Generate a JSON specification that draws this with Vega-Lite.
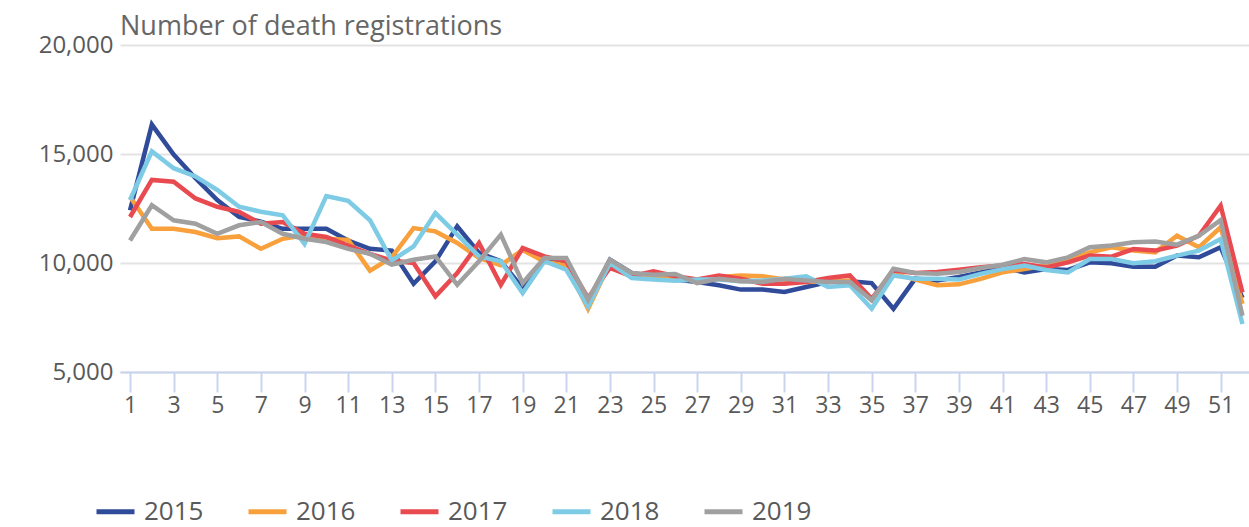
{
  "$schema": "https://vega.github.io/schema/vega-lite/v6.json",
  "width": 1129,
  "height": 327,
  "autosize": "none",
  "padding": {"left": 120, "top": 45, "right": 0, "bottom": 155},
  "background": "white",
  "config": {
    "font": "Open Sans",
    "view": {"stroke": null}
  },
  "title": {
    "text": "Number of death registrations",
    "anchor": "start",
    "frame": "group",
    "fontSize": 27,
    "fontWeight": "normal",
    "color": "#666666",
    "font": "Open Sans",
    "offset": -8
  },
  "data": {
    "values": [
      {"week": 1, "year": "2015", "deaths": 12420},
      {"week": 2, "year": "2015", "deaths": 16350},
      {"week": 3, "year": "2015", "deaths": 14970},
      {"week": 4, "year": "2015", "deaths": 13890},
      {"week": 5, "year": "2015", "deaths": 12890},
      {"week": 6, "year": "2015", "deaths": 12110},
      {"week": 7, "year": "2015", "deaths": 11900},
      {"week": 8, "year": "2015", "deaths": 11570},
      {"week": 9, "year": "2015", "deaths": 11570},
      {"week": 10, "year": "2015", "deaths": 11570},
      {"week": 11, "year": "2015", "deaths": 11030},
      {"week": 12, "year": "2015", "deaths": 10650},
      {"week": 13, "year": "2015", "deaths": 10570},
      {"week": 14, "year": "2015", "deaths": 9050},
      {"week": 15, "year": "2015", "deaths": 10080},
      {"week": 16, "year": "2015", "deaths": 11680},
      {"week": 17, "year": "2015", "deaths": 10460},
      {"week": 18, "year": "2015", "deaths": 10080},
      {"week": 19, "year": "2015", "deaths": 8850},
      {"week": 20, "year": "2015", "deaths": 10230},
      {"week": 21, "year": "2015", "deaths": 10080},
      {"week": 22, "year": "2015", "deaths": 8240},
      {"week": 23, "year": "2015", "deaths": 10150},
      {"week": 24, "year": "2015", "deaths": 9540},
      {"week": 25, "year": "2015", "deaths": 9390},
      {"week": 26, "year": "2015", "deaths": 9240},
      {"week": 27, "year": "2015", "deaths": 9130},
      {"week": 28, "year": "2015", "deaths": 8980},
      {"week": 29, "year": "2015", "deaths": 8780},
      {"week": 30, "year": "2015", "deaths": 8780},
      {"week": 31, "year": "2015", "deaths": 8670},
      {"week": 32, "year": "2015", "deaths": 8900},
      {"week": 33, "year": "2015", "deaths": 9130},
      {"week": 34, "year": "2015", "deaths": 9160},
      {"week": 35, "year": "2015", "deaths": 9080},
      {"week": 36, "year": "2015", "deaths": 7900},
      {"week": 37, "year": "2015", "deaths": 9280},
      {"week": 38, "year": "2015", "deaths": 9200},
      {"week": 39, "year": "2015", "deaths": 9360},
      {"week": 40, "year": "2015", "deaths": 9570},
      {"week": 41, "year": "2015", "deaths": 9800},
      {"week": 42, "year": "2015", "deaths": 9570},
      {"week": 43, "year": "2015", "deaths": 9720},
      {"week": 44, "year": "2015", "deaths": 9680},
      {"week": 45, "year": "2015", "deaths": 10030},
      {"week": 46, "year": "2015", "deaths": 9985},
      {"week": 47, "year": "2015", "deaths": 9830},
      {"week": 48, "year": "2015", "deaths": 9830},
      {"week": 49, "year": "2015", "deaths": 10340},
      {"week": 50, "year": "2015", "deaths": 10260},
      {"week": 51, "year": "2015", "deaths": 10720},
      {"week": 52, "year": "2015", "deaths": 8400},
      {"week": 1, "year": "2016", "deaths": 13040},
      {"week": 2, "year": "2016", "deaths": 11570},
      {"week": 3, "year": "2016", "deaths": 11570},
      {"week": 4, "year": "2016", "deaths": 11420},
      {"week": 5, "year": "2016", "deaths": 11140},
      {"week": 6, "year": "2016", "deaths": 11220},
      {"week": 7, "year": "2016", "deaths": 10650},
      {"week": 8, "year": "2016", "deaths": 11110},
      {"week": 9, "year": "2016", "deaths": 11270},
      {"week": 10, "year": "2016", "deaths": 11110},
      {"week": 11, "year": "2016", "deaths": 11060},
      {"week": 12, "year": "2016", "deaths": 9650},
      {"week": 13, "year": "2016", "deaths": 10260},
      {"week": 14, "year": "2016", "deaths": 11600},
      {"week": 15, "year": "2016", "deaths": 11450},
      {"week": 16, "year": "2016", "deaths": 10920},
      {"week": 17, "year": "2016", "deaths": 10230},
      {"week": 18, "year": "2016", "deaths": 9900},
      {"week": 19, "year": "2016", "deaths": 10600},
      {"week": 20, "year": "2016", "deaths": 10050},
      {"week": 21, "year": "2016", "deaths": 9900},
      {"week": 22, "year": "2016", "deaths": 7900},
      {"week": 23, "year": "2016", "deaths": 10000},
      {"week": 24, "year": "2016", "deaths": 9500},
      {"week": 25, "year": "2016", "deaths": 9400},
      {"week": 26, "year": "2016", "deaths": 9350},
      {"week": 27, "year": "2016", "deaths": 9240},
      {"week": 28, "year": "2016", "deaths": 9360},
      {"week": 29, "year": "2016", "deaths": 9430},
      {"week": 30, "year": "2016", "deaths": 9390},
      {"week": 31, "year": "2016", "deaths": 9240},
      {"week": 32, "year": "2016", "deaths": 9130},
      {"week": 33, "year": "2016", "deaths": 9160},
      {"week": 34, "year": "2016", "deaths": 9200},
      {"week": 35, "year": "2016", "deaths": 8290},
      {"week": 36, "year": "2016", "deaths": 9510},
      {"week": 37, "year": "2016", "deaths": 9240},
      {"week": 38, "year": "2016", "deaths": 8980},
      {"week": 39, "year": "2016", "deaths": 9020},
      {"week": 40, "year": "2016", "deaths": 9270},
      {"week": 41, "year": "2016", "deaths": 9570},
      {"week": 42, "year": "2016", "deaths": 9720},
      {"week": 43, "year": "2016", "deaths": 9880},
      {"week": 44, "year": "2016", "deaths": 10110},
      {"week": 45, "year": "2016", "deaths": 10490},
      {"week": 46, "year": "2016", "deaths": 10720},
      {"week": 47, "year": "2016", "deaths": 10570},
      {"week": 48, "year": "2016", "deaths": 10490},
      {"week": 49, "year": "2016", "deaths": 11250},
      {"week": 50, "year": "2016", "deaths": 10720},
      {"week": 51, "year": "2016", "deaths": 11640},
      {"week": 52, "year": "2016", "deaths": 8120},
      {"week": 1, "year": "2017", "deaths": 12110},
      {"week": 2, "year": "2017", "deaths": 13810},
      {"week": 3, "year": "2017", "deaths": 13730},
      {"week": 4, "year": "2017", "deaths": 12960},
      {"week": 5, "year": "2017", "deaths": 12580},
      {"week": 6, "year": "2017", "deaths": 12350},
      {"week": 7, "year": "2017", "deaths": 11800},
      {"week": 8, "year": "2017", "deaths": 11880},
      {"week": 9, "year": "2017", "deaths": 11340},
      {"week": 10, "year": "2017", "deaths": 11190},
      {"week": 11, "year": "2017", "deaths": 10800},
      {"week": 12, "year": "2017", "deaths": 10420},
      {"week": 13, "year": "2017", "deaths": 10110},
      {"week": 14, "year": "2017", "deaths": 10000},
      {"week": 15, "year": "2017", "deaths": 8470},
      {"week": 16, "year": "2017", "deaths": 9540},
      {"week": 17, "year": "2017", "deaths": 10920},
      {"week": 18, "year": "2017", "deaths": 9000},
      {"week": 19, "year": "2017", "deaths": 10690},
      {"week": 20, "year": "2017", "deaths": 10300},
      {"week": 21, "year": "2017", "deaths": 10080},
      {"week": 22, "year": "2017", "deaths": 8400},
      {"week": 23, "year": "2017", "deaths": 9770},
      {"week": 24, "year": "2017", "deaths": 9390},
      {"week": 25, "year": "2017", "deaths": 9620},
      {"week": 26, "year": "2017", "deaths": 9390},
      {"week": 27, "year": "2017", "deaths": 9240},
      {"week": 28, "year": "2017", "deaths": 9430},
      {"week": 29, "year": "2017", "deaths": 9280},
      {"week": 30, "year": "2017", "deaths": 9050},
      {"week": 31, "year": "2017", "deaths": 9050},
      {"week": 32, "year": "2017", "deaths": 9130},
      {"week": 33, "year": "2017", "deaths": 9310},
      {"week": 34, "year": "2017", "deaths": 9430},
      {"week": 35, "year": "2017", "deaths": 8360},
      {"week": 36, "year": "2017", "deaths": 9660},
      {"week": 37, "year": "2017", "deaths": 9540},
      {"week": 38, "year": "2017", "deaths": 9590},
      {"week": 39, "year": "2017", "deaths": 9690},
      {"week": 40, "year": "2017", "deaths": 9800},
      {"week": 41, "year": "2017", "deaths": 9880},
      {"week": 42, "year": "2017", "deaths": 9950},
      {"week": 43, "year": "2017", "deaths": 9800},
      {"week": 44, "year": "2017", "deaths": 10030},
      {"week": 45, "year": "2017", "deaths": 10340},
      {"week": 46, "year": "2017", "deaths": 10290},
      {"week": 47, "year": "2017", "deaths": 10640},
      {"week": 48, "year": "2017", "deaths": 10570},
      {"week": 49, "year": "2017", "deaths": 10800},
      {"week": 50, "year": "2017", "deaths": 11250},
      {"week": 51, "year": "2017", "deaths": 12630},
      {"week": 52, "year": "2017", "deaths": 8650},
      {"week": 1, "year": "2018", "deaths": 12890},
      {"week": 2, "year": "2018", "deaths": 15120},
      {"week": 3, "year": "2018", "deaths": 14350},
      {"week": 4, "year": "2018", "deaths": 13970},
      {"week": 5, "year": "2018", "deaths": 13350},
      {"week": 6, "year": "2018", "deaths": 12580},
      {"week": 7, "year": "2018", "deaths": 12350},
      {"week": 8, "year": "2018", "deaths": 12190},
      {"week": 9, "year": "2018", "deaths": 10880},
      {"week": 10, "year": "2018", "deaths": 13070},
      {"week": 11, "year": "2018", "deaths": 12850},
      {"week": 12, "year": "2018", "deaths": 11960},
      {"week": 13, "year": "2018", "deaths": 10110},
      {"week": 14, "year": "2018", "deaths": 10760},
      {"week": 15, "year": "2018", "deaths": 12290},
      {"week": 16, "year": "2018", "deaths": 11300},
      {"week": 17, "year": "2018", "deaths": 10300},
      {"week": 18, "year": "2018", "deaths": 10080},
      {"week": 19, "year": "2018", "deaths": 8620},
      {"week": 20, "year": "2018", "deaths": 10080},
      {"week": 21, "year": "2018", "deaths": 9690},
      {"week": 22, "year": "2018", "deaths": 8010},
      {"week": 23, "year": "2018", "deaths": 10000},
      {"week": 24, "year": "2018", "deaths": 9310},
      {"week": 25, "year": "2018", "deaths": 9240},
      {"week": 26, "year": "2018", "deaths": 9190},
      {"week": 27, "year": "2018", "deaths": 9240},
      {"week": 28, "year": "2018", "deaths": 9240},
      {"week": 29, "year": "2018", "deaths": 9160},
      {"week": 30, "year": "2018", "deaths": 9200},
      {"week": 31, "year": "2018", "deaths": 9280},
      {"week": 32, "year": "2018", "deaths": 9390},
      {"week": 33, "year": "2018", "deaths": 8900},
      {"week": 34, "year": "2018", "deaths": 8980},
      {"week": 35, "year": "2018", "deaths": 7910},
      {"week": 36, "year": "2018", "deaths": 9430},
      {"week": 37, "year": "2018", "deaths": 9280},
      {"week": 38, "year": "2018", "deaths": 9280},
      {"week": 39, "year": "2018", "deaths": 9240},
      {"week": 40, "year": "2018", "deaths": 9500},
      {"week": 41, "year": "2018", "deaths": 9720},
      {"week": 42, "year": "2018", "deaths": 9880},
      {"week": 43, "year": "2018", "deaths": 9680},
      {"week": 44, "year": "2018", "deaths": 9570},
      {"week": 45, "year": "2018", "deaths": 10180},
      {"week": 46, "year": "2018", "deaths": 10180},
      {"week": 47, "year": "2018", "deaths": 9985},
      {"week": 48, "year": "2018", "deaths": 10080},
      {"week": 49, "year": "2018", "deaths": 10340},
      {"week": 50, "year": "2018", "deaths": 10570},
      {"week": 51, "year": "2018", "deaths": 11100},
      {"week": 52, "year": "2018", "deaths": 7200},
      {"week": 1, "year": "2019", "deaths": 11030},
      {"week": 2, "year": "2019", "deaths": 12650},
      {"week": 3, "year": "2019", "deaths": 11960},
      {"week": 4, "year": "2019", "deaths": 11800},
      {"week": 5, "year": "2019", "deaths": 11340},
      {"week": 6, "year": "2019", "deaths": 11730},
      {"week": 7, "year": "2019", "deaths": 11880},
      {"week": 8, "year": "2019", "deaths": 11340},
      {"week": 9, "year": "2019", "deaths": 11110},
      {"week": 10, "year": "2019", "deaths": 10960},
      {"week": 11, "year": "2019", "deaths": 10650},
      {"week": 12, "year": "2019", "deaths": 10420},
      {"week": 13, "year": "2019", "deaths": 9920},
      {"week": 14, "year": "2019", "deaths": 10150},
      {"week": 15, "year": "2019", "deaths": 10300},
      {"week": 16, "year": "2019", "deaths": 9000},
      {"week": 17, "year": "2019", "deaths": 10080},
      {"week": 18, "year": "2019", "deaths": 11300},
      {"week": 19, "year": "2019", "deaths": 9080},
      {"week": 20, "year": "2019", "deaths": 10230},
      {"week": 21, "year": "2019", "deaths": 10230},
      {"week": 22, "year": "2019", "deaths": 8320},
      {"week": 23, "year": "2019", "deaths": 10150},
      {"week": 24, "year": "2019", "deaths": 9540},
      {"week": 25, "year": "2019", "deaths": 9460},
      {"week": 26, "year": "2019", "deaths": 9500},
      {"week": 27, "year": "2019", "deaths": 9080},
      {"week": 28, "year": "2019", "deaths": 9280},
      {"week": 29, "year": "2019", "deaths": 9160},
      {"week": 30, "year": "2019", "deaths": 9130},
      {"week": 31, "year": "2019", "deaths": 9280},
      {"week": 32, "year": "2019", "deaths": 9200},
      {"week": 33, "year": "2019", "deaths": 9130},
      {"week": 34, "year": "2019", "deaths": 9130},
      {"week": 35, "year": "2019", "deaths": 8290},
      {"week": 36, "year": "2019", "deaths": 9740},
      {"week": 37, "year": "2019", "deaths": 9540},
      {"week": 38, "year": "2019", "deaths": 9510},
      {"week": 39, "year": "2019", "deaths": 9590},
      {"week": 40, "year": "2019", "deaths": 9770},
      {"week": 41, "year": "2019", "deaths": 9920},
      {"week": 42, "year": "2019", "deaths": 10180},
      {"week": 43, "year": "2019", "deaths": 10030},
      {"week": 44, "year": "2019", "deaths": 10260},
      {"week": 45, "year": "2019", "deaths": 10720},
      {"week": 46, "year": "2019", "deaths": 10800},
      {"week": 47, "year": "2019", "deaths": 10950},
      {"week": 48, "year": "2019", "deaths": 10990},
      {"week": 49, "year": "2019", "deaths": 10840},
      {"week": 50, "year": "2019", "deaths": 11250},
      {"week": 51, "year": "2019", "deaths": 11970},
      {"week": 52, "year": "2019", "deaths": 7580}
    ]
  },
  "mark": {"type": "line", "strokeWidth": 4.5, "strokeJoin": "miter", "clip": false},
  "encoding": {
    "x": {
      "field": "week",
      "type": "quantitative",
      "scale": {"domain": [0.54, 52.3], "nice": false, "zero": false},
      "axis": {
        "title": null,
        "values": [1, 3, 5, 7, 9, 11, 13, 15, 17, 19, 21, 23, 25, 27, 29, 31, 33, 35, 37, 39, 41, 43, 45, 47, 49, 51],
        "format": "d",
        "grid": false,
        "domainColor": "#c9d5ee",
        "domainWidth": 2,
        "tickColor": "#c9d5ee",
        "tickWidth": 2,
        "tickSize": 20,
        "labelFontSize": 23,
        "labelColor": "#595959",
        "labelFont": "Open Sans",
        "labelPadding": 2,
        "labelFlush": false,
        "labelOverlap": false
      }
    },
    "y": {
      "field": "deaths",
      "type": "quantitative",
      "scale": {"domain": [5000, 20000], "nice": false, "zero": false},
      "axis": {
        "title": null,
        "values": [5000, 10000, 15000, 20000],
        "format": ",.0f",
        "domain": false,
        "ticks": false,
        "gridColor": "#e3e3e3",
        "gridWidth": 2,
        "labelFontSize": 24,
        "labelColor": "#595959",
        "labelFont": "Open Sans",
        "labelPadding": 7
      }
    },
    "color": {
      "field": "year",
      "type": "nominal",
      "scale": {
        "domain": ["2015", "2016", "2017", "2018", "2019"],
        "range": ["#2f4b9a", "#f7a03c", "#e84a50", "#7ecbe5", "#a0a0a0"]
      },
      "legend": {
        "title": null,
        "orient": "none",
        "direction": "horizontal",
        "legendX": -26,
        "legendY": 445,
        "symbolType": "stroke",
        "symbolSize": 1444,
        "symbolStrokeWidth": 5,
        "labelFontSize": 26,
        "labelColor": "#595959",
        "labelFont": "Open Sans",
        "labelOffset": 7,
        "columnPadding": 34
      }
    }
  }
}
